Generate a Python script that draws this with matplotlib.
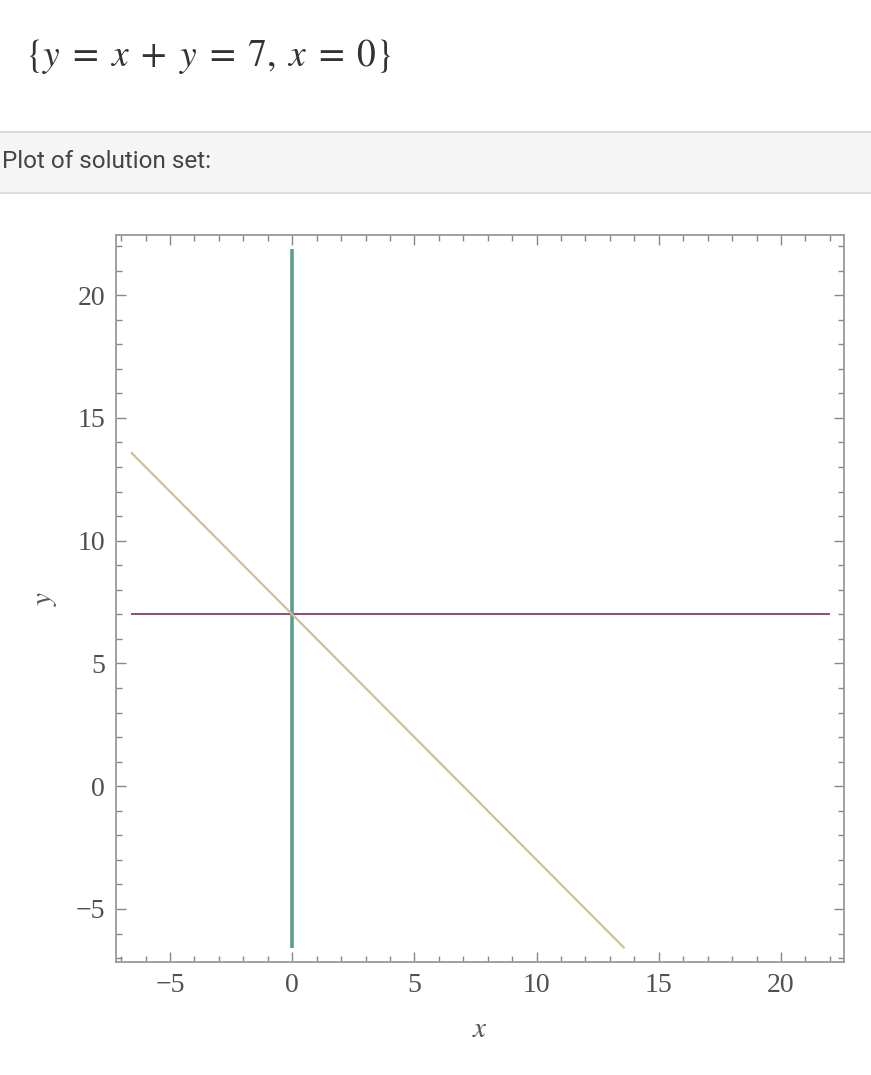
import matplotlib
matplotlib.use('Agg')
import matplotlib.pyplot as plt
from matplotlib.patches import Rectangle
from matplotlib.ticker import MultipleLocator

# solution set pieces, as drawn in the picture
vert_x = [0, 0]
vert_y = [-6.6, 21.9]
horiz_x = [-6.6, 22.0]
horiz_y = [7, 7]
diag_x = [-6.6, 13.6]
diag_y = [13.6, -6.6]

x_ticks = [-5, 0, 5, 10, 15, 20]
y_ticks = [-5, 0, 5, 10, 15, 20]

plt.rcParams['mathtext.fontset'] = 'stix'

fig = plt.figure(figsize=(8.71, 10.75), dpi=100)

# header: equation and grey band
fig.text(0.029, 0.947, r'$\{y\;=\;x\;+\;y\;=\;7,\;x\;=\;0\}$', fontsize=27, color='#333333',
         va='center', ha='left')
band = Rectangle((0, 1 - 193 / 1075), 1, 61 / 1075, transform=fig.transFigure,
                 facecolor='#f5f5f5', edgecolor='none')
fig.patches.append(band)
for yy in (132, 193):
    fig.add_artist(plt.Line2D([0, 1], [1 - yy / 1075] * 2, transform=fig.transFigure,
                              color='#dcdcdc', lw=1.5))
fig.text(0.002, 1 - 162 / 1075, 'Plot of solution set:', fontsize=17.5, color='#444444',
         family='Roboto', va='center', ha='left')

ax = fig.add_axes([116 / 871, 1 - 962 / 1075, 728 / 871, 727 / 1075])
ax.plot(vert_x, vert_y, color='#5e9e8e', lw=2.6, solid_capstyle='butt')
ax.plot(horiz_x, horiz_y, color='#9a4a78', lw=1.4, solid_capstyle='butt')
ax.plot(diag_x, diag_y, color='#cdc296', lw=1.6, solid_capstyle='butt')

ax.set_xlim(-7.21, 22.58)
ax.set_ylim(-7.16, 22.45)
ax.set_xticks(x_ticks)
ax.set_yticks(y_ticks)
ax.set_xticklabels(['\u22125' if t == -5 else str(t) for t in x_ticks])
ax.set_yticklabels(['\u22125' if t == -5 else str(t) for t in y_ticks])
ax.xaxis.set_minor_locator(MultipleLocator(1))
ax.yaxis.set_minor_locator(MultipleLocator(1))
ax.tick_params(which='both', direction='in', top=True, right=True, color='#888888')
ax.tick_params(which='major', length=7, width=1, labelsize=20, labelcolor='#505050', pad=8)
ax.tick_params(which='minor', length=4, width=1)
for lbl in ax.get_xticklabels() + ax.get_yticklabels():
    lbl.set_family('Liberation Serif')
for sp in ax.spines.values():
    sp.set_color('#999999')
    sp.set_linewidth(1.3)

ax.set_xlabel('$x$', fontsize=21, color='#555555', labelpad=12)
ax.set_ylabel('$y$', fontsize=21, color='#555555', labelpad=12)

fig.savefig('out.png', dpi=100)
